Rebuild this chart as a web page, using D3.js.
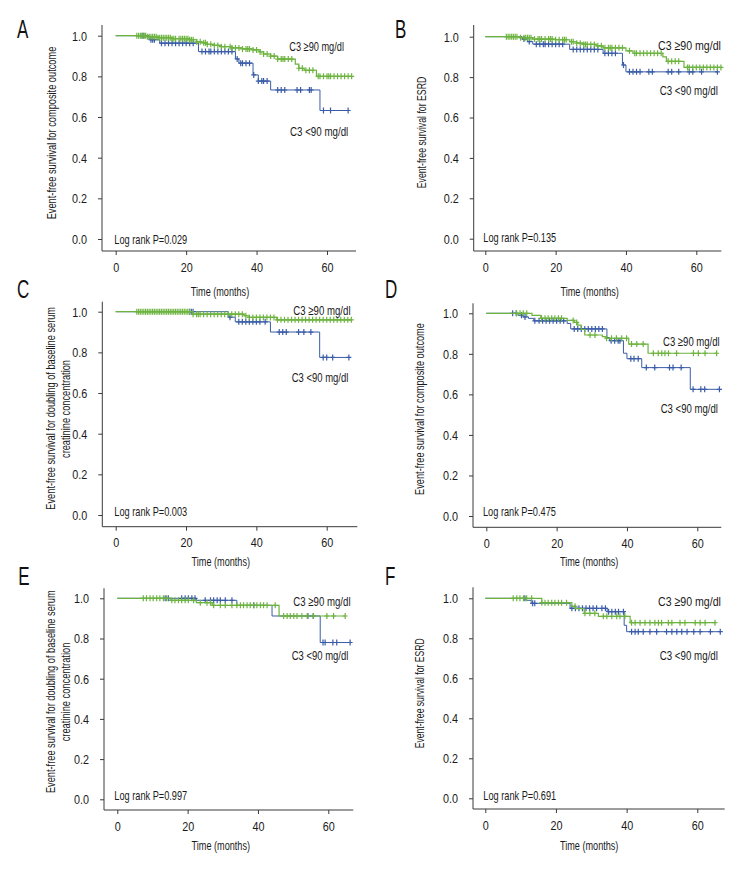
<!DOCTYPE html>
<html><head><meta charset="utf-8">
<script src="https://cdn.jsdelivr.net/npm/d3@7"></script>
<style>
body{margin:0;background:#fff;}
svg{display:block;font-family:"Liberation Sans",Arial,sans-serif;}
</style></head><body><svg id="chart" width="756" height="876"></svg>
<script>
// ---------- data ----------
const panelLetters = ["A","B","C","D","E","F"];
const yTitles = [
  ["Event-free survival for composite outcome"],
  ["Event-free survival for ESRD"],
  ["Event-free survival for doubling of baseline serum","creatinine concentration"],
  ["Event-free survival for composite outcome"],
  ["Event-free survival for doubling of baseline serum","creatinine concentration"],
  ["Event-free survival for ESRD"]
];
const pValues = ["0.029","0.135","0.003","0.475","0.997","0.691"];
const groupNames = ["C3 \u226590 mg/dl","C3 <90 mg/dl"];
const xTitle = "Time (months)";
const timeTicks = [0,20,40,60];
const survTicks = [0,0.2,0.4,0.6,0.8,1.0];

// [time, survival after step]
const aHighSteps = [[0,1],[9,0.995],[12,0.99],[16,0.985],[21,0.98],[23,0.97],[24.5,0.965],[26,0.958],[28,0.952],[30,0.946],[33,0.94],[36,0.935],[39,0.93],[41,0.92],[42,0.91],[44,0.90],[46,0.885],[51,0.86],[52,0.84],[53.5,0.83],[57,0.80]];
const aHighCensor = [6,6.5,7,7.5,8,8.5,9,9.5,10,10.5,11,11.5,12,12.5,13,13.5,14,14.5,15,15.5,16,16.5,17,18,18.5,19,19.5,20,20.5,21,21.5,22,23,24,25,25.5,26,27,28,29,30,31,32.5,33,34,35,36,37,37.5,38,39,40,41,42,43,44,45,46,47,47.5,48,49,50,52,53,54,55,56,57.5,58,59,60,60.5,61,62,63,64,65,66,67];
const aLowSteps = [[0,1],[9.5,0.98],[12.5,0.963],[23.5,0.922],[34,0.886],[35,0.865],[39,0.807],[40.5,0.777],[44,0.733],[58,0.632]];
const aLowCensor = [7.5,8,10,10.5,11,13,14,15,16,17,18,19,20,21,22,24.5,25.5,26.5,27,28,29,30,31,32,33,34.5,35.5,36,37,38,39.2,40.5,41.5,42,43,46,47,48,51.5,52.5,55,55.5,59,61,66];

const bHighSteps = [[0,1],[10,0.995],[13.5,0.988],[20,0.985],[24,0.975],[26,0.968],[28,0.962],[31.5,0.955],[33.5,0.945],[40,0.93],[42,0.918],[50.5,0.9],[51.5,0.878],[56.5,0.848]];
const bHighCensor = [6,6.5,7,7.5,8,8.5,9,10,11,11.5,12,12.5,13,14,15,15.5,16,17,18,18.5,19,20,21,22,22.5,23,24.5,25,26,27,28,28.5,29,30,31,32,33,34,35,35.5,36,37,38,39,41,42.5,43,44,45,46,47,48,49,50,52,53,54,55,57.5,58,59,60,61,62,63,64,65,66,67];
const bLowSteps = [[0,1],[10.5,0.988],[12,0.976],[13.5,0.963],[24,0.937],[33.5,0.918],[39,0.86],[40,0.826]];
const bLowCensor = [11,12.5,14.5,15.5,16.5,17,18,19,20,21,22,25,26,27,28,29,30,31,32,34,35,36,37,39.3,41,42,43,44,46.5,47.5,52,53,55,58,59,61.5,66];

const cHighSteps = [[0,1],[22,0.988],[36.5,0.98],[38,0.972],[45.8,0.96]];
const cHighCensor = [6,6.5,7,7.5,8,8.5,9,9.5,10,10.5,11,11.5,12,12.5,13,13.5,14,14.5,15,15.5,16,16.5,17,17.5,18,18.5,19,19.5,20,20.5,21,22,23,23.5,24,25,26,27,28,29,30,31,32,33,34,35,36,37,38,39,40,41,42,43,44,45,46,47,48,49,50,51,52,53,54,55,56,57,58,59,60,61,62,63,64,65,66,67];
const cLowSteps = [[0,1],[32,0.973],[34,0.95],[44,0.9],[58,0.775]];
const cLowCensor = [21,21.5,22,32.5,35,36,37,38,39,40,41,42.5,46.5,47.5,48.5,52,53.5,55.5,59,60,61.7,66.3];

const dHighSteps = [[0,1],[13,0.99],[15.5,0.975],[23,0.965],[25,0.955],[26,0.942],[27,0.92],[28,0.893],[33,0.885],[34,0.877],[40.5,0.848],[46,0.803]];
const dHighCensor = [8.6,9.6,10.5,11.5,15.7,16.7,17.6,18.6,19.5,20.5,21.4,24.7,25.7,29.5,30.9,34.2,35.6,37,38.5,39.9,41.3,42.8,44.6,47.5,48.9,49.9,50.8,51.8,54.1,58.9,60.3,62.2,65.5];
const dLowSteps = [[0,1],[9,0.99],[10.5,0.982],[12,0.975],[13.5,0.963],[23,0.95],[24,0.923],[34.3,0.88],[35,0.865],[39,0.803],[40,0.776],[44.2,0.732],[58,0.625]];
const dLowCensor = [7.5,8.5,10,11,13.8,15,16,17,18,19,20,21,22,25,26,27,28,29,30,31,32,33,35.5,36.5,37.5,38,41.1,42,43.2,45.5,47.9,52.1,53.1,55.4,58.8,61,62.1,66.3];

const eHighSteps = [[0,1],[15,0.99],[22.5,0.978],[27,0.965],[46,0.912]];
const eHighCensor = [7.4,8.3,9.3,10.2,11.2,12.1,13.1,14,15.5,16.4,17.4,18.3,19.3,20.2,21.7,23.6,25.5,26.5,27.4,29.3,30.7,32.6,34,35,35.9,36.9,37.8,38.8,39.7,40.7,41.6,42.6,44.9,47.3,48.3,49.2,50.2,51.1,52.5,54,55.8,59.6,61.5,64.8];
const eLowSteps = [[0,1],[22.5,0.99],[34,0.965],[44,0.912],[57.7,0.78]];
const eLowCensor = [13.6,14.5,18.3,19.3,20.2,21.2,22.1,25,26.5,27.4,28.4,29.3,30.7,32.6,38.8,54.2,55.7,58.5,59.1,61.3,62.4,66.2];

const fHighSteps = [[0,1],[16,0.978],[24.5,0.96],[25.5,0.948],[28,0.925],[32,0.91],[41,0.878]];
const fHighCensor = [7.9,8.9,9.8,10.8,11.7,13.1,16,16.9,17.8,18.8,19.7,20.7,21.6,23,25.4,28.2,29.6,31,33.4,34.4,35.8,37.2,38.1,39.5,41.4,42.4,43.8,45.2,46.6,48,49,49.9,51.8,52.8,55.1,56.5,59.4,60.8,62.2,65];
const fLowSteps = [[0,1],[11.5,0.99],[13,0.975],[24,0.95],[34.5,0.933],[39.3,0.865],[40,0.833]];
const fLowCensor = [11.2,13.4,14,24.5,25.5,26.5,27.5,28.5,29.5,30.5,31.5,33,34,34.9,35.8,36.8,37.7,39.1,41.4,42.4,43.3,44.7,46.6,48.5,51.3,52.8,54.2,55.6,57.1,59,60.8,63.7,66.5];

// ---------- layout ----------
const colors = {high:"#6cb33f", low:"#3a5ca8"};
const layouts = [
 {ox:102, x0:115.7, x60:327, xEnd:356, yTop:25, y1:35.7, y0:239, yBase:251, lx:17, ly:38.3,
  ty:[[51.3,133,173]], tx:220, tY:291, gHi:[289.3,46.7], gLo:[290,131], lr:[114.3,239.3]},
 {ox:473.7, x0:485.3, x60:696.3, xEnd:721.3, yTop:25, y1:36.7, y0:238.7, yBase:251, lx:395, ly:37.5,
  ty:[[421.3,132.5,111.7]], tx:589.7, tY:291, gHi:[658,45], gLo:[659.7,90.7], lr:[483.3,237.3]},
 {ox:102.3, x0:115.7, x60:326.7, xEnd:357.3, yTop:301.7, y1:311.7, y0:515, yBase:526.7, lx:17, ly:298.3,
  ty:[[50.5,408.3,203],[65.5,409,98]], tx:220.8, tY:561.7, gHi:[293.3,310], gLo:[291.7,377.3], lr:[114.3,511.7]},
 {ox:473, x0:486.3, x60:697.3, xEnd:721.3, yTop:303.3, y1:313.3, y0:516, yBase:527.3, lx:385, ly:298.3,
  ty:[[419.7,409,172]], tx:589.2, tY:561.7, gHi:[663,341.7], gLo:[660.7,408.3], lr:[483,511.7]},
 {ox:104, x0:117.3, x60:328.3, xEnd:353.3, yTop:588.3, y1:598.3, y0:799.3, yBase:810, lx:18.3, ly:585,
  ty:[[50.5,691.7,203],[65.8,692,98.7]], tx:220.8, tY:845.7, gHi:[293.3,601.7], gLo:[291.7,655], lr:[114.3,795]},
 {ox:473, x0:485.3, x60:697.3, xEnd:724.7, yTop:587.3, y1:598.3, y0:798.3, yBase:809, lx:385, ly:585,
  ty:[[419.7,693.3,110]], tx:589.2, tY:845.7, gHi:[658,601.7], gLo:[659.7,655], lr:[483.3,795]}
];
const series = [
 [aHighSteps,aHighCensor,aLowSteps,aLowCensor],
 [bHighSteps,bHighCensor,bLowSteps,bLowCensor],
 [cHighSteps,cHighCensor,cLowSteps,cLowCensor],
 [dHighSteps,dHighCensor,dLowSteps,dLowCensor],
 [eHighSteps,eHighCensor,eLowSteps,eLowCensor],
 [fHighSteps,fHighCensor,fLowSteps,fLowCensor]
];
const gLabelW = [[54.7,58.3],[63,58.3],[57.3,56.7],[56.7,57.3],[57.3,56.7],[63,58.3]];

const svg = d3.select("#chart");
const axisColor = "#3a3a3a";
const textColor = "#1a1a1a";

function survAt(steps, t){
  let s = steps[0][1];
  for (const p of steps) { if (p[0] <= t) s = p[1]; }
  return s;
}
function condense(sel, f){
  sel.each(function(){
    const w = this.getComputedTextLength();
    d3.select(this).attr("textLength", w*f).attr("lengthAdjust","spacingAndGlyphs");
  });
}
// text squeezed horizontally (along its own direction) to a target width via transform
function squeezedText(parent, str, x, y, width, opts){
  const t = parent.append("text").attr("x",0).attr("y",0).attr("dy","0.35em")
    .attr("text-anchor", opts.anchor || "start")
    .style("font-size", opts.size).attr("fill", textColor).text(str);
  const n = t.node().getComputedTextLength();
  const k = width / n;
  t.attr("transform", `translate(${x},${y})${opts.rotate ? " rotate(-90)" : ""} scale(${k},1)`);
  return t;
}

layouts.forEach((L, i) => {
  const g = svg.append("g");
  const x = d3.scaleLinear().domain([0,60]).range([L.x0, L.x60]);
  const y = d3.scaleLinear().domain([0,1]).range([L.y0, L.y1]);

  // axis lines
  g.append("line").attr("x1",L.ox).attr("x2",L.ox).attr("y1",L.yTop).attr("y2",L.yBase)
    .attr("stroke",axisColor).attr("stroke-width",1);
  g.append("line").attr("x1",L.ox).attr("x2",L.xEnd).attr("y1",L.yBase).attr("y2",L.yBase)
    .attr("stroke",axisColor).attr("stroke-width",1);

  const ya = g.append("g").attr("transform",`translate(${L.ox},0)`)
    .call(d3.axisLeft(y).tickValues(survTicks).tickFormat(d3.format(".1f")).tickSize(4).tickPadding(11).tickSizeOuter(0));
  const xa = g.append("g").attr("transform",`translate(0,${L.yBase})`)
    .call(d3.axisBottom(x).tickValues(timeTicks).tickSize(4).tickPadding(7).tickSizeOuter(0));
  [ya,xa].forEach(a => {
    a.select(".domain").remove();
    a.selectAll("line").attr("stroke",axisColor);
    a.selectAll("text").attr("fill",textColor).style("font-size","13.5px")
      .style("font-family",'"Liberation Sans",Arial,sans-serif');
    condense(a.selectAll("text"), 0.8);
  });

  // curves: low first, high on top
  const [hs, hc, ls, lc] = series[i];
  const groups = [{steps:ls, cens:lc, col:colors.low, w:1},{steps:hs, cens:hc, col:colors.high, w:1.2}];
  groups.forEach(G => {
    const end = Math.max(d3.max(G.cens), G.steps[G.steps.length-1][0]);
    const pts = G.steps.concat([[end, G.steps[G.steps.length-1][1]]]);
    const line = d3.line().x(d => x(d[0])).y(d => y(d[1])).curve(d3.curveStepAfter);
    g.append("path").attr("d", line(pts)).attr("fill","none").attr("stroke",G.col).attr("stroke-width",G.w);
    g.append("g").selectAll("path").data(G.cens).join("path")
      .attr("d", t => {
        const cx = x(t), cy = y(survAt(G.steps, t));
        return `M${cx-2.5},${cy}H${cx+2.5}M${cx},${cy-3}V${cy+3}`;
      })
      .attr("stroke",G.col).attr("stroke-width",1.2).attr("fill","none");
  });

  // panel letter
  const lt = g.append("text").attr("x",L.lx).attr("y",L.ly).text(panelLetters[i])
    .attr("fill","#111").style("font-size","25px");
  condense(lt, 0.68);

  // y title
  yTitles[i].forEach((s, k) => {
    const [cx, cy, len] = L.ty[k];
    squeezedText(g, s, cx, cy, len, {size:"13px", anchor:"middle", rotate:true});
  });

  // x title
  squeezedText(g, xTitle, L.tx, L.tY, 58.5, {size:"13px", anchor:"middle"});

  // group labels
  squeezedText(g, groupNames[0], L.gHi[0], L.gHi[1], gLabelW[i][0], {size:"13.5px"});
  squeezedText(g, groupNames[1], L.gLo[0], L.gLo[1], gLabelW[i][1], {size:"13.5px"});

  // log rank
  squeezedText(g, "Log rank P=" + pValues[i], L.lr[0], L.lr[1], 73, {size:"13px"});
});
</script></body></html>
